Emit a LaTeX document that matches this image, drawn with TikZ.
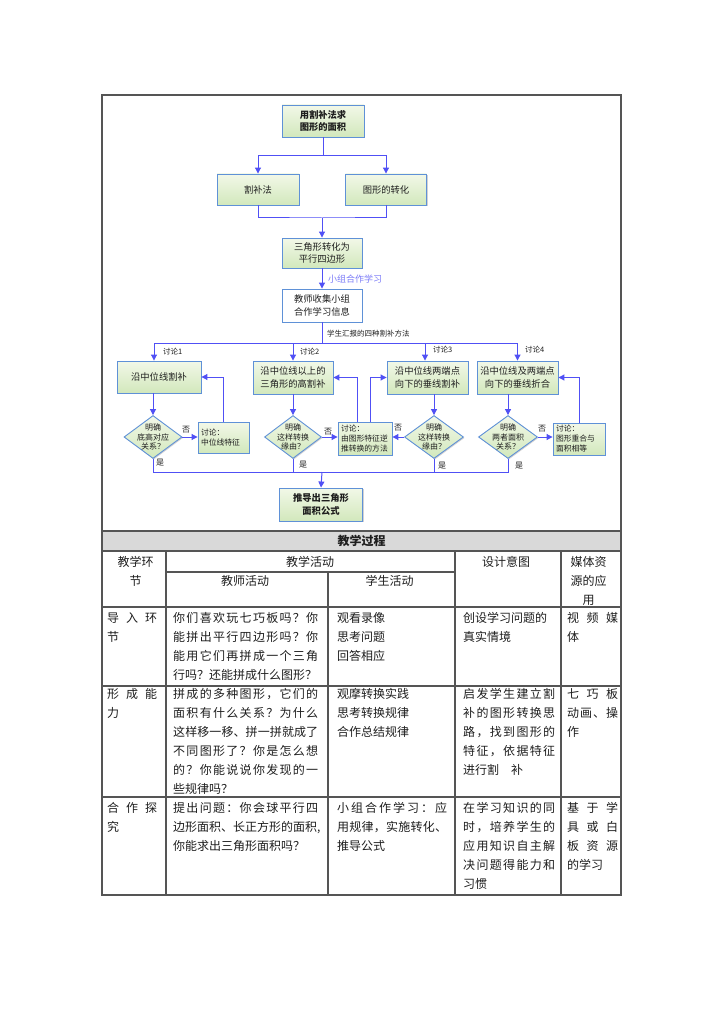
\documentclass[tikz,border=0pt]{standalone}
\usepackage{fontspec}
\setmainfont{Noto Sans CJK SC}
\usetikzlibrary{shapes.geometric,arrows.meta,shadows}
\definecolor{linec}{RGB}{80,80,245}
\definecolor{bordc}{RGB}{95,145,215}
\definecolor{gtop}{RGB}{242,248,232}
\definecolor{gbot}{RGB}{210,232,188}
\definecolor{tabc}{RGB}{85,85,85}
\definecolor{hdr}{RGB}{217,217,217}
\definecolor{txt}{RGB}{30,30,30}
\newcommand\jl[2]{\makebox[#1][s]{\jlA#2\relax\relax}}
\def\jlA#1#2{#1\ifx\relax#2\else\hfil\expandafter\jlA\expandafter#2\fi}
\begin{document}
\begin{tikzpicture}[x=1pt,y=-1pt,
  shad/.style={drop shadow={shadow xshift=1pt,shadow yshift=-1pt,fill=black!35,opacity=.5}},
  flowbox/.style={draw=bordc,line width=0.9pt,top color=gtop,bottom color=gbot,align=center,inner sep=0pt,font=\fontsize{9.3}{12.5}\selectfont,text=txt,shad},
  whitebox/.style={draw=bordc,line width=0.9pt,fill=white,align=center,inner sep=0pt,font=\fontsize{9.3}{12.5}\selectfont,text=txt,shad},
  gbox/.style={flowbox,font=\fontsize{7.8}{10}\selectfont,align=left,inner xsep=3pt,inner ysep=0pt},
  dbox/.style={diamond,draw=bordc,line width=0.9pt,top color=gtop,bottom color=gbot,inner sep=0pt,shad},
  dtext/.style={font=\fontsize{8}{9.8}\selectfont,align=center,inner sep=0pt,text=txt},
  ln/.style={draw=linec,line width=1pt},
  arr/.style={ln,-{Triangle[width=6pt,length=6pt]}},
  lbl/.style={font=\fontsize{7.5}{9}\selectfont,inner sep=0pt,anchor=west,text=txt},
  yn/.style={font=\fontsize{8}{9}\selectfont,inner sep=0pt,text=txt},
  tline/.style={draw=tabc,line width=1.1pt},
  cell/.style={anchor=north west,inner sep=0pt,align=left,font=\fontsize{12}{19}\selectfont,text=txt},
  hcell/.style={anchor=center,inner sep=0pt,align=center,font=\fontsize{12}{19}\selectfont,text=txt}]
\useasboundingbox (0,0) rectangle (724,1024);
\fill[white] (0,0) rectangle (724,1024);

% ---------- flowchart ----------
\node[flowbox,minimum width=82pt,minimum height=32pt,font=\fontsize{9.3}{12.5}\selectfont\bfseries] (A) at (323,121) {用割补法求\\图形的面积};
\node[flowbox,minimum width=82pt,minimum height=31pt] (B1) at (258,189.5) {割补法};
\node[flowbox,minimum width=81pt,minimum height=31pt] (B2) at (386,189.5) {图形的转化};
\node[flowbox,minimum width=80pt,minimum height=30pt] (C) at (322,253) {三角形转化为\\平行四边形};
\node[whitebox,minimum width=80pt,minimum height=33pt] (D) at (322,305.5) {教师收集小组\\合作学习信息};

\node[flowbox,minimum width=84pt,minimum height=32pt] (E1) at (159,377) {沿中位线割补};
\node[flowbox,minimum width=80pt,minimum height=33pt] (E2) at (293,377.5) {沿中位线以上的\\三角形的高割补};
\node[flowbox,minimum width=81pt,minimum height=33pt] (E3) at (427.5,377.5) {沿中位线两端点\\向下的垂线割补};
\node[flowbox,minimum width=81pt,minimum height=33pt] (E4) at (517.5,377.5) {沿中位线及两端点\\向下的垂线折合};

\node[dbox,minimum width=58pt,minimum height=43pt] (F1) at (153,437) {};
\node[dtext] at (F1) {明确\\底高对应\\关系？};
\node[dbox,minimum width=57pt,minimum height=43pt] (F2) at (293,437) {};
\node[dtext] at (F2) {明确\\这样转换\\缘由？};
\node[dbox,minimum width=59pt,minimum height=43pt] (F3) at (434,437) {};
\node[dtext] at (F3) {明确\\这样转换\\缘由？};
\node[dbox,minimum width=59pt,minimum height=43pt] (F4) at (508,437) {};
\node[dtext] at (F4) {明确\\两者面积\\关系？};

\node[gbox,text width=45pt,minimum width=51pt,minimum height=31pt] (G1) at (223.5,437.5) {讨论：\\中位线特征};
\node[gbox,text width=48pt,minimum width=54pt,minimum height=33pt] (G2) at (365,438.5) {讨论：\\由图形特征逆\\推转换的方法};
\node[gbox,text width=46pt,minimum width=52pt,minimum height=32pt] (G4) at (579,439) {讨论：\\图形重合与\\面积相等};

\node[flowbox,minimum width=83pt,minimum height=33pt,font=\fontsize{9.3}{12.5}\selectfont\bfseries] (H) at (321,504.5) {推导出三角形\\面积公式};

% connectors
\coordinate (s1) at (323,156);
\draw[ln] (A.south) -- (s1);
\draw[arr] (s1) -| (B1.north);
\draw[arr] (s1) -| (B2.north);
\coordinate (s2) at (322,218);
\draw[ln] (B1.south) |- (s2) -| (B2.south);
\draw[arr] (s2) -- (C.north);
\draw[arr] (C.south) -- (D.north);
\node[lbl,font=\fontsize{9}{10}\selectfont,text=linec!75] (lb0) at (328,279) {小组合作学习};
\coordinate (s3) at (322,343);
\draw[ln] (D.south) -- (s3);
\node[lbl] (lb1) at (327,334) {学生汇报的四种割补方法};
\coordinate (h1) at (154,343);
\coordinate (h2) at (293,343);
\coordinate (h3) at (425,343);
\coordinate (h4) at (517.5,343);
\draw[ln] (h1) -- (h4);
\draw[arr] (h1) -- (h1 |- E1.north);
\draw[arr] (h2) -- (E2.north);
\draw[arr] (h3) -- (h3 |- E3.north);
\draw[arr] (h4) -- (E4.north);
\node[lbl] (t1) at (163,352) {讨论1};
\node[lbl] (t2) at (300,352) {讨论2};
\node[lbl] (t3) at (433,350) {讨论3};
\node[lbl] (t4) at (525,350) {讨论4};

\draw[arr] (F1.north |- E1.south) -- (F1.north);
\draw[arr] (E2.south) -- (F2.north);
\draw[arr] (F3.north |- E3.south) -- (F3.north);
\draw[arr] (F4.north |- E4.south) -- (F4.north);

\draw[arr] (F1.east) -- (F1.east -| G1.west);
\draw[arr] (F2.east) -- (F2.east -| G2.west);
\draw[arr] (F3.west) -- (F3.west -| G2.east);
\draw[arr] (F4.east) -- (F4.east -| G4.west);
\node[yn] (n1) at (186,430) {否};
\node[yn] (n2) at (328,432) {否};
\node[yn] (n3) at (398,428) {否};
\node[yn] (n4) at (542,429) {否};

\draw[arr] (G1.north) |- (E1.east);
\draw[arr] ([xshift=-8pt]G2.north) |- (E2.east);
\draw[arr] ([xshift=5pt]G2.north) |- (E3.west);
\draw[arr] (G4.north) |- (E4.east);

\coordinate (b) at (322,472);
\draw[ln] (F1.south) -- (F1.south |- b) -- (F4.south |- b) -- (F4.south);
\draw[ln] (F2.south) -- (F2.south |- b);
\draw[ln] (F3.south) -- (F3.south |- b);
\draw[arr] (b) -- (H.north);
\node[yn] (y1) at (160,463) {是};
\node[yn] (y2) at (303,465) {是};
\node[yn] (y3) at (442,466) {是};
\node[yn] (y4) at (519,466) {是};

% ---------- table ----------
\fill[hdr] (102,531) rectangle (621,551);
\draw[tline] (102,531) -- (621,531);
\draw[tline] (102,551) -- (621,551);
\draw[tline] (166,551) -- (166,895);
\draw[tline] (455,551) -- (455,895);
\draw[tline] (561,551) -- (561,895);
\draw[tline] (328,572) -- (328,895);
\draw[tline] (166,572) -- (455,572);
\draw[tline] (102,607) -- (621,607);
\draw[tline] (102,686) -- (621,686);
\draw[tline] (102,797) -- (621,797);
\draw[tabc,line width=1.4pt] (102,95) rectangle (621,895);

\node[font=\fontsize{12}{14}\selectfont\bfseries,text=txt,inner sep=0pt] (th) at (361.5,541) {教学过程};
\node[hcell] (c01) at (135.5,571.5) {教学环\\节};
\node[hcell] (c02) at (310,562) {教学活动};
\node[hcell] (c03) at (245,581) {教师活动};
\node[hcell] (c04) at (389.5,581) {学生活动};
\node[hcell] (c05) at (506,562) {设计意图};
\node[hcell] (c06) at (588.5,581) {媒体资\\源的应\\用};

% row 1
\node[cell] (r11) at (107,612) {\jl{50pt}{导入环}\\ 节};
\node[cell] (r12) at (173,612) {\jl{145pt}{你们喜欢玩七巧板吗？你}\\ \jl{145pt}{能拼出平行四边形吗？你}\\ \jl{145pt}{能用它们再拼成一个三角}\\ 行吗？还能拼成什么图形？};
\node[cell] (r13) at (337,612) {观看录像\\ 思考问题\\ 回答相应};
\node[cell] (r14) at (463,612) {创设学习问题的\\ 真实情境};
\node[cell] (r15) at (567,612) {\jl{51pt}{视频媒}\\ 体};

% row 2
\node[cell] (r21) at (107,688) {\jl{50pt}{形成能}\\ 力};
\node[cell] (r22) at (173,688) {\jl{145pt}{拼成的多种图形，它们的}\\ \jl{145pt}{面积有什么关系？为什么}\\ \jl{145pt}{这样移一移、拼一拼就成了}\\ \jl{145pt}{不同图形了？你是怎么想}\\ \jl{145pt}{的？你能说说你发现的一}\\ 些规律吗？};
\node[cell] (r23) at (337,688) {观摩转换实践\\ 思考转换规律\\ 合作总结规律};
\node[cell] (r24) at (463,688) {\jl{92pt}{启发学生建立割}\\ \jl{92pt}{补的图形转换思}\\ \jl{92pt}{路，找到图形的}\\ \jl{92pt}{特征，依据特征}\\ 进行割　补};
\node[cell] (r25) at (567,688) {\jl{51pt}{七巧板}\\ \jl{51pt}{动画、操}\\ 作};

% row 3
\node[cell] (r31) at (107,802) {\jl{50pt}{合作探}\\ 究};
\node[cell] (r32) at (173,802) {\jl{145pt}{提出问题：你会球平行四}\\ 边形面积、长正方形的面积,\\ 你能求出三角形面积吗？};
\node[cell] (r33) at (337,802) {\jl{110pt}{小组合作学习：应}\\ \jl{110pt}{用规律，实施转化、}\\ 推导公式};
\node[cell] (r34) at (463,802) {\jl{92pt}{在学习知识的同}\\ \jl{92pt}{时，培养学生的}\\ \jl{92pt}{应用知识自主解}\\ \jl{92pt}{决问题得能力和}\\ 习惯};
\node[cell] (r35) at (567,802) {\jl{51pt}{基于学}\\ \jl{51pt}{具或白}\\ \jl{51pt}{板资源}\\ 的学习};
\end{tikzpicture}
\end{document}
